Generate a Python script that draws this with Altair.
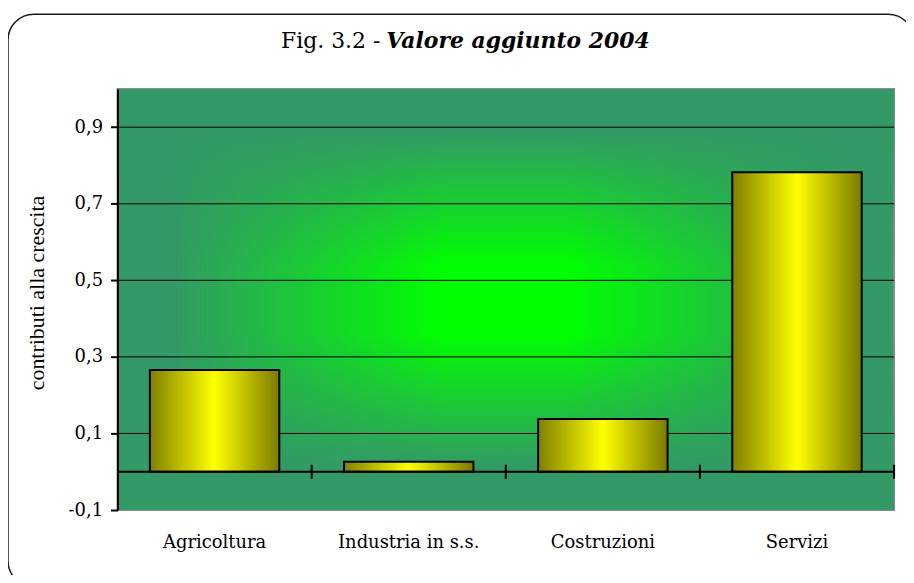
import altair as alt
import pandas as pd

# ---- data ----
categories = ["Agricoltura", "Industria in s.s.", "Costruzioni", "Servizi"]
values = [0.266, 0.026, 0.138, 0.782]
y_ticks = [-0.1, 0.1, 0.3, 0.5, 0.7, 0.9]
grid_values = [0.1, 0.3, 0.5, 0.7, 0.9]
title_plain = "Fig. 3.2 -"
title_bold = "Valore aggiunto 2004"
y_title = "contributi alla crescita"

W, H = 780, 423
EDGE = "#339966"
CENTER = "#00ff00"

bars_df = pd.DataFrame({"cat": categories, "val": values})
grid_df = pd.DataFrame({"g": grid_values})
one = pd.DataFrame({"k": [0]})

xscale = alt.Scale(domain=categories, paddingInner=1 / 3, paddingOuter=1 / 6)
yscale = alt.Scale(domain=[-0.1, 1.0], nice=False, zero=False)

xaxis = alt.Axis(
    title=None, ticks=False, tickSize=0, domain=False, labelAngle=0, grid=False,
    labelFont="DejaVu Serif", labelFontSize=18, labelColor="black",
    labelBaseline="alphabetic", labelPadding=38,
)
yaxis = alt.Axis(
    title=None, values=y_ticks, grid=False,
    labelExpr="(datum.value < 0 ? '-' : '') + replace(format(abs(datum.value), '.1f'), '.', ',')",
    labelFont="DejaVu Serif", labelFontSize=18, labelColor="black",
    labelPadding=8, tickSize=7, tickWidth=2, tickColor="black",
    domainColor="black", domainWidth=2, zindex=1,
)

# outer rounded frame
frame = alt.Chart(one).mark_rect(
    fill="white", fillOpacity=0, stroke="#1a1a1a", strokeWidth=1.5, cornerRadius=26
).encode(x=alt.value(-110), x2=alt.value(800), y=alt.value(-75), y2=alt.value(500))

# background: rectangular "from centre" gradient, approximated by two layers
bg_h = alt.Chart(one).mark_rect(
    fill={
        "gradient": "linear", "x1": 0, "y1": 0, "x2": 1, "y2": 0,
        "stops": [
            {"offset": 0, "color": EDGE},
            {"offset": 0.07, "color": EDGE},
            {"offset": 0.42, "color": CENTER},
            {"offset": 0.58, "color": CENTER},
            {"offset": 0.93, "color": EDGE},
            {"offset": 1, "color": EDGE},
        ],
    },
    stroke="#8c8c8c", strokeWidth=2,
).encode(x=alt.value(0), x2=alt.value(W), y=alt.value(0), y2=alt.value(H))

bg_v = alt.Chart(one).mark_rect(
    fill={
        "gradient": "linear", "x1": 0, "y1": 0, "x2": 0, "y2": 1,
        "stops": [
            {"offset": 0, "color": "rgba(51,153,102,1)"},
            {"offset": 0.1, "color": "rgba(51,153,102,1)"},
            {"offset": 0.42, "color": "rgba(51,153,102,0)"},
            {"offset": 0.58, "color": "rgba(51,153,102,0)"},
            {"offset": 0.9, "color": "rgba(51,153,102,1)"},
            {"offset": 1, "color": "rgba(51,153,102,1)"},
        ],
    },
).encode(x=alt.value(0), x2=alt.value(W), y=alt.value(0), y2=alt.value(H))

grid = alt.Chart(grid_df).mark_rule(color="black", strokeWidth=1).encode(
    y=alt.Y("g:Q", scale=yscale, axis=yaxis)
)

bar_fill = {
    "gradient": "linear", "x1": 0, "y1": 0, "x2": 1, "y2": 0,
    "stops": [
        {"offset": 0, "color": "#808000"},
        {"offset": 0.5, "color": "#ffff00"},
        {"offset": 1, "color": "#7a7a00"},
    ],
}

bars = alt.Chart(bars_df).mark_bar(fill=bar_fill, stroke="black", strokeWidth=2).encode(
    x=alt.X("cat:N", scale=xscale, sort=categories, axis=xaxis),
    y=alt.Y("val:Q", scale=yscale, axis=yaxis),
    y2=alt.datum(0),
)

zero = alt.Chart(one).mark_rule(color="black", strokeWidth=2).encode(
    y=alt.YDatum(0, scale=yscale, axis=yaxis)
)

ticks = alt.Chart(bars_df).mark_rule(
    color="black", strokeWidth=2, xOffset=97.5, yOffset=-7, y2Offset=7
).encode(
    x=alt.X("cat:N", scale=xscale, sort=categories, axis=xaxis),
    y=alt.YDatum(0, scale=yscale, axis=yaxis),
    y2=alt.datum(0),
)

t_plain = alt.Chart(one).mark_text(
    text=title_plain, align="right", baseline="alphabetic",
    font="DejaVu Serif", fontSize=22, color="black",
).encode(x=alt.value(264), y=alt.value(-41))

t_bold = alt.Chart(one).mark_text(
    text=title_bold, align="left", baseline="alphabetic",
    font="DejaVu Serif", fontSize=22, fontWeight="bold", fontStyle="italic", color="black",
).encode(x=alt.value(270), y=alt.value(-41))

t_y = alt.Chart(one).mark_text(
    text=y_title, angle=270, align="center", baseline="middle",
    font="Liberation Serif", fontSize=22, color="black",
).encode(x=alt.value(-81), y=alt.value(205))

chart = alt.layer(
    frame, bg_h, bg_v, grid, bars, zero, ticks, t_plain, t_bold, t_y
).properties(
    width=W, height=H,
    autosize=alt.AutoSizeParams(type="none"),
    padding={"left": 110, "top": 80, "right": 12, "bottom": 64},
    background="white",
).configure_view(stroke=None)

chart.save("out.html", embed_options={"renderer": "svg", "actions": False})
